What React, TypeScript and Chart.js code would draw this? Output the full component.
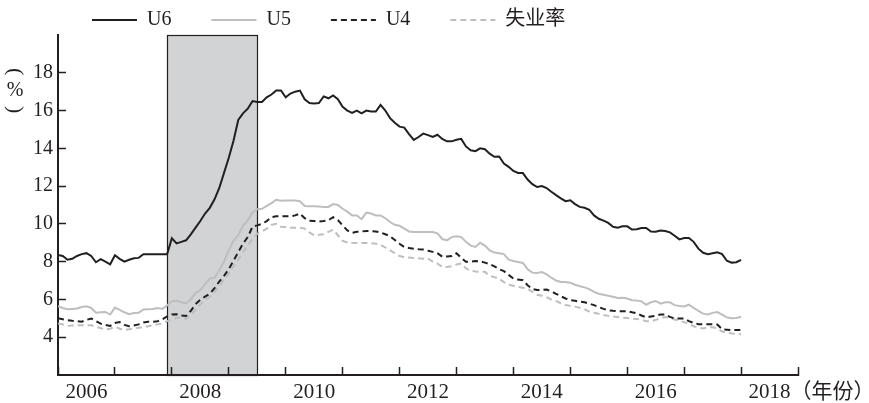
import { useEffect, useRef } from 'react';
import { Chart, registerables } from 'chart.js';

Chart.register(...registerables);

// Monthly series, Jan 2006 – Jan 2018 (percent)
const START_YEAR = 2006;
const seriesNames = ['U6', 'U5', 'U4', '失业率'];

const u6 = [
  8.35, 8.3, 8.1, 8.15, 8.3, 8.4, 8.45, 8.3, 7.97, 8.13, 8.0, 7.86,
  8.34, 8.15, 8.0, 8.1, 8.18, 8.2, 8.39, 8.39, 8.39, 8.39, 8.39, 8.39,
  9.24, 8.97, 9.05, 9.13, 9.45, 9.8, 10.15, 10.55, 10.85, 11.3, 11.9, 12.7,
  13.5, 14.4, 15.5, 15.85, 16.1, 16.5, 16.45, 16.45, 16.7, 16.85, 17.06, 17.06,
  16.7, 16.9, 17.0, 17.06, 16.6, 16.4, 16.38, 16.4, 16.75, 16.65, 16.8, 16.6,
  16.2, 16.0, 15.88, 16.0, 15.85, 16.0, 15.95, 15.95, 16.3, 16.0, 15.6, 15.35,
  15.15, 15.1, 14.75, 14.45, 14.6, 14.78, 14.7, 14.6, 14.72, 14.5, 14.37, 14.37,
  14.45, 14.5, 14.1, 13.9, 13.85, 14.0, 13.95, 13.72, 13.55, 13.57, 13.2, 13.02,
  12.8, 12.7, 12.69, 12.35, 12.1, 11.95, 12.0, 11.9, 11.7, 11.52, 11.35, 11.2,
  11.25, 11.05, 10.9, 10.85, 10.75, 10.45, 10.27, 10.17, 10.05, 9.85, 9.8, 9.87,
  9.87, 9.7, 9.72, 9.78, 9.78, 9.6, 9.58, 9.65, 9.62, 9.55, 9.37, 9.18,
  9.25, 9.25, 9.05, 8.69, 8.47, 8.4, 8.45, 8.5, 8.4, 8.05, 7.95, 7.97,
  8.1,
];

const u5 = [
  5.64, 5.55, 5.48, 5.5, 5.52, 5.6, 5.64, 5.55, 5.3, 5.32, 5.34, 5.2,
  5.57, 5.45, 5.32, 5.22, 5.28, 5.3, 5.47, 5.48, 5.49, 5.55, 5.5, 5.68,
  5.9, 5.93, 5.85, 5.8, 6.0, 6.35, 6.5, 6.8, 7.1, 7.15, 7.55, 8.0,
  8.6, 9.1, 9.4, 9.9, 10.19, 10.6, 10.78, 10.8, 10.95, 11.1, 11.28, 11.22,
  11.24, 11.24, 11.24, 11.2, 10.95, 10.93, 10.93, 10.92, 10.9, 10.9, 11.05, 11.0,
  10.8, 10.65, 10.45, 10.45, 10.25, 10.6, 10.55, 10.45, 10.45, 10.3, 10.1, 9.95,
  9.9, 9.75, 9.6, 9.57, 9.57, 9.57, 9.57, 9.57, 9.5, 9.2, 9.13, 9.3,
  9.34, 9.3, 9.05, 8.85, 8.78, 9.0, 8.85, 8.6, 8.48, 8.45, 8.4, 8.11,
  8.04, 7.98, 7.93, 7.6, 7.42, 7.4, 7.45, 7.33, 7.15, 7.0, 6.92, 6.92,
  6.88, 6.78, 6.7, 6.64, 6.55, 6.4, 6.3, 6.25, 6.2, 6.14, 6.08, 6.09,
  6.05, 5.96, 5.95, 5.9, 5.72, 5.85, 5.92, 5.78, 5.85, 5.85, 5.7, 5.65,
  5.63, 5.72, 5.55, 5.4, 5.25, 5.2, 5.29, 5.33, 5.2, 5.05, 5.0, 5.02,
  5.08,
];

const u4 = [
  5.0, 4.95, 4.9, 4.87, 4.85, 4.82, 4.92, 4.99, 4.85, 4.72, 4.65, 4.6,
  4.75, 4.8, 4.65, 4.58, 4.62, 4.68, 4.78, 4.82, 4.82, 4.85, 4.95, 5.1,
  5.2, 5.22, 5.15, 5.12, 5.4, 5.75, 5.98, 6.15, 6.3, 6.6, 6.95, 7.25,
  7.6, 8.05, 8.5, 8.95, 9.3, 9.85, 9.92, 10.0, 10.15, 10.35, 10.4, 10.4,
  10.4, 10.4, 10.45, 10.55, 10.3, 10.17, 10.15, 10.13, 10.15, 10.19, 10.35, 10.2,
  9.92, 9.65, 9.53, 9.58, 9.6, 9.62, 9.62, 9.6, 9.55, 9.45, 9.35, 9.15,
  8.95, 8.77, 8.72, 8.69, 8.66, 8.64, 8.58, 8.52, 8.45, 8.26, 8.27, 8.3,
  8.45, 8.2, 8.0, 8.0, 8.03, 8.02, 7.95, 7.87, 7.75, 7.6, 7.5, 7.3,
  7.1, 7.05, 7.02, 6.75, 6.55, 6.5, 6.5, 6.52, 6.42, 6.3, 6.17, 6.05,
  5.97, 5.93, 5.88, 5.85, 5.78, 5.7, 5.6, 5.5, 5.43, 5.4, 5.38, 5.38,
  5.38, 5.32, 5.27, 5.15, 5.05, 5.1, 5.14, 5.2, 5.2, 5.08, 4.99, 4.99,
  4.99, 4.85, 4.76, 4.69, 4.69, 4.69, 4.68, 4.67, 4.42, 4.4, 4.38, 4.38,
  4.38,
];

const u3 = [
  4.73, 4.68, 4.6, 4.62, 4.64, 4.64, 4.64, 4.64, 4.55, 4.48, 4.41, 4.45,
  4.55, 4.45, 4.38, 4.42, 4.47, 4.5, 4.52, 4.58, 4.64, 4.68, 4.73, 4.85,
  4.94, 5.02, 5.05, 4.97, 5.2, 5.45, 5.75, 5.95, 6.14, 6.4, 6.7, 7.05,
  7.35, 7.75, 8.1, 8.5, 8.85, 9.2, 9.48, 9.6, 9.75, 9.95, 10.0, 9.85,
  9.83, 9.8, 9.8, 9.8, 9.75, 9.55, 9.4, 9.42, 9.45, 9.58, 9.69, 9.4,
  9.1, 9.02, 9.0, 8.99, 8.99, 8.99, 8.97, 8.95, 8.9, 8.75, 8.6, 8.45,
  8.3, 8.25, 8.22, 8.2, 8.18, 8.16, 8.16, 8.0, 7.9, 7.72, 7.72, 7.76,
  7.85, 7.9, 7.65, 7.52, 7.48, 7.46, 7.46, 7.25, 7.18, 7.1, 6.92, 6.78,
  6.72, 6.66, 6.62, 6.57, 6.4, 6.25, 6.2, 6.12, 6.0, 5.92, 5.8, 5.7,
  5.66, 5.62, 5.56, 5.48, 5.36, 5.3, 5.24, 5.18, 5.13, 5.1, 5.07, 5.04,
  5.02, 4.99, 4.96, 4.93, 4.85, 4.84, 4.92, 5.0, 5.07, 5.03, 4.94, 4.87,
  4.8, 4.72, 4.58, 4.52, 4.46, 4.52, 4.53, 4.47, 4.3, 4.27, 4.2, 4.18,
  4.16,
];

const yTicks = [4, 6, 8, 10, 12, 14, 16, 18];
const yearTicks = [2006, 2007, 2008, 2009, 2010, 2011, 2012, 2013, 2014, 2015, 2016, 2017, 2018, 2019];
const labelYears = [2006, 2008, 2010, 2012, 2014, 2016, 2018];
const recession = [2007.917, 2009.5]; // Dec 2007 – Jun 2009

const INK = '#231f20';
const GRAY = '#bcbec0';
const SHADE = '#d1d3d4';
const SERIF = "'Liberation Serif', 'Noto Sans CJK SC', serif";
const X_FONT = 21;
const X_TICK_LEN = -8;
const X_PAD = 13;

const toPoints = (arr: number[]) => arr.map((y, i) => ({ x: START_YEAR + i / 12, y }));

const recessionPlugin = {
  id: 'recessionBox',
  beforeDraw(chart: any) {
    const { ctx, chartArea, scales } = chart;
    const x = scales.x;
    const x0 = Math.round(x.getPixelForValue(recession[0]));
    const x1 = Math.round(x.getPixelForValue(recession[1]));
    const top = Math.round(chartArea.top);
    const bottom = Math.round(chartArea.bottom);
    ctx.save();
    ctx.fillStyle = SHADE;
    ctx.fillRect(x0, top, x1 - x0, bottom - top);
    ctx.strokeStyle = INK;
    ctx.lineWidth = 1.2;
    ctx.strokeRect(x0 + 0.5, top + 0.5, x1 - x0, bottom - top);
    ctx.restore();
  },
};

const legendPlacement = {
  id: 'legendPlacement',
  beforeInit(chart: any) {
    const legend = chart.legend;
    const fit = legend.fit;
    legend.fit = function () {
      fit.call(this);
      this.height = 35;
    };
  },
  afterLayout(chart: any) {
    chart.legend.left = 52;
    chart.legend.top = -30;
  },
};

const annotations = {
  id: 'annotations',
  afterDraw(chart: any) {
    const { ctx, scales } = chart;
    const x = scales.x;
    const y = scales.y;
    ctx.save();
    ctx.fillStyle = INK;
    ctx.textAlign = 'center';
    ctx.textBaseline = 'middle';
    // vertical unit title "（%）"
    const cx = 15;
    const cy = y.getPixelForValue(17.05);
    ctx.font = `22px ${SERIF}`;
    ctx.save();
    ctx.translate(cx, cy - 19);
    ctx.rotate(Math.PI / 2);
    ctx.fillText('(', 0, 0);
    ctx.restore();
    ctx.save();
    ctx.translate(cx, cy + 19);
    ctx.rotate(Math.PI / 2);
    ctx.fillText(')', 0, 0);
    ctx.restore();
    ctx.font = `20px ${SERIF}`;
    ctx.fillText('%', cx, cy);
    // x unit after the last year label
    ctx.font = `${X_FONT}px ${SERIF}`;
    const last = labelYears[labelYears.length - 1];
    const lx = x.getPixelForValue(last + 0.5) + ctx.measureText(String(last)).width / 2;
    const ly = x.top + X_TICK_LEN + X_PAD + (X_FONT * 1.2) / 2;
    ctx.textAlign = 'left';
    ctx.fillText('（年份）', lx, ly);
    ctx.restore();
  },
};

export default function App() {
  const ref = useRef<HTMLCanvasElement>(null);

  useEffect(() => {
    if (!ref.current) return;
    const colors = [INK, GRAY, INK, GRAY];
    const dashes = [[], [], [6, 4], [6, 4]];
    const data = [u6, u5, u4, u3];
    const chart = new Chart(ref.current, {
      type: 'line',
      data: {
        datasets: data.map((arr, i) => ({
          label: seriesNames[i],
          data: toPoints(arr),
          borderColor: colors[i],
          backgroundColor: colors[i],
          borderWidth: 2,
          borderDash: dashes[i],
          pointRadius: 0,
          tension: 0,
          fill: false,
        })),
      },
      options: {
        responsive: false,
        animation: false,
        devicePixelRatio: 1,
        layout: { padding: { left: 0, right: 71, top: 0, bottom: 0 } },
        plugins: {
          tooltip: { enabled: false },
          legend: {
            display: true,
            position: 'top',
            align: 'start',
            labels: {
              usePointStyle: true,
              pointStyle: 'line',
              pointStyleWidth: 45,
              boxWidth: 45,
              padding: 40,
              color: INK,
              font: { family: SERIF, size: 20 },
              generateLabels: (ch: any) => {
                const items = (Chart.defaults as any).plugins.legend.labels.generateLabels(ch);
                return items.map((it: any) => {
                  const ds = ch.data.datasets[it.datasetIndex];
                  return {
                    ...it,
                    pointStyle: 'line',
                    lineDash: ds.borderDash,
                    lineWidth: ds.borderWidth,
                    strokeStyle: ds.borderColor,
                    fillStyle: ds.borderColor,
                  };
                });
              },
            },
          },
        },
        scales: {
          x: {
            type: 'linear',
            min: yearTicks[0],
            max: yearTicks[yearTicks.length - 1],
            afterBuildTicks: (s: any) => {
              const vals = [...yearTicks, ...labelYears.map((v) => v + 0.5)].sort((a, b) => a - b);
              s.ticks = vals.map((v) => ({ value: v }));
            },
            afterFit: (s: any) => {
              s.height = 28;
            },
            grid: {
              drawOnChartArea: false,
              tickLength: X_TICK_LEN,
              tickWidth: 1.5,
              tickColor: (c: any) => (c.tick && Number.isInteger(c.tick.value) ? INK : 'rgba(0,0,0,0)'),
            },
            border: { color: INK, width: 2 },
            ticks: {
              autoSkip: false,
              maxRotation: 0,
              minRotation: 0,
              padding: X_PAD,
              color: INK,
              font: { family: SERIF, size: X_FONT },
              callback: (value: any) => {
                const v = Number(value) - 0.5;
                return labelYears.includes(v) ? String(v) : '';
              },
            },
          },
          y: {
            type: 'linear',
            min: 2,
            max: 20,
            afterBuildTicks: (s: any) => {
              s.ticks = yTicks.map((v) => ({ value: v }));
            },
            afterFit: (s: any) => {
              s.width = 58;
            },
            grid: { drawOnChartArea: false, tickLength: -8, tickWidth: 1.5, tickColor: INK },
            border: { color: INK, width: 2 },
            ticks: {
              padding: 13,
              color: INK,
              font: { family: SERIF, size: 20 },
            },
          },
        },
      },
      plugins: [recessionPlugin, legendPlacement, annotations],
    } as any);
    return () => chart.destroy();
  }, []);

  return (
    <div style={{ position: 'absolute', left: 0, top: 0, width: 869, height: 403, background: '#fff' }}>
      <canvas ref={ref} width={869} height={403} style={{ display: 'block' }} />
    </div>
  );
}
